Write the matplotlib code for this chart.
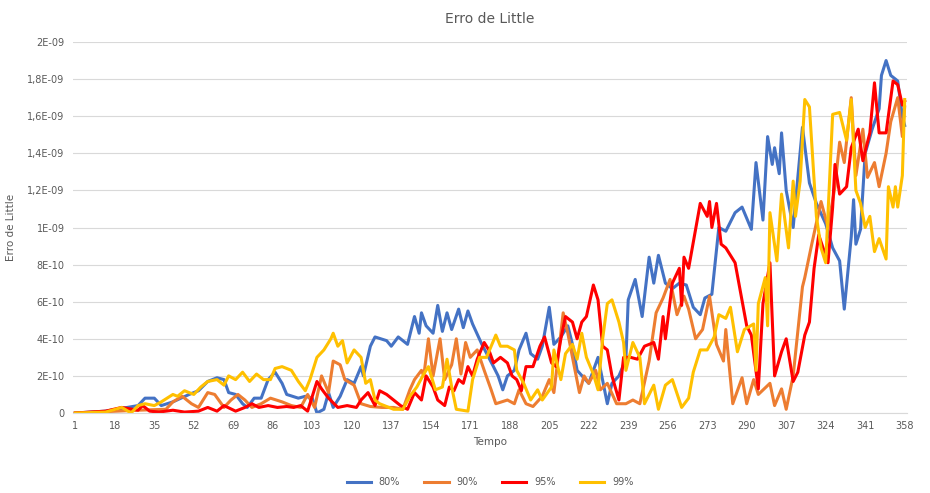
import matplotlib.pyplot as plt

# values in units of 1e-10
t80 = [1, 14, 28, 31, 35, 38, 43, 50, 54, 58, 62, 65, 67, 70, 73, 75, 78, 81, 84, 87, 90, 92, 97, 100, 103, 105, 108, 110, 112, 115, 118, 121, 124,
       125, 128, 130, 135, 137, 140, 144, 147, 149, 150, 152, 155, 157, 159, 161, 163, 166, 168, 170, 172, 176, 181, 183, 185, 187, 190, 192, 195, 197, 200, 202, 205, 207, 210, 213, 215, 217, 222, 226, 230, 232, 235, 238, 239, 242,
       245, 248, 250, 252, 255, 258, 261, 264, 267, 270, 272, 275, 278, 281, 285, 288, 292, 294, 297, 299, 301, 302, 304, 305, 307, 310, 314, 317, 320, 324, 327, 330, 332, 335, 336, 337, 339, 341, 344, 347, 348, 350, 352, 355, 357, 358]
v80 = [0, 0.1, 0.4, 0.8, 0.8, 0.4, 0.6, 1.0, 1.2, 1.7, 1.9, 1.8, 1.1, 1.0, 0.5, 0.3, 0.8, 0.8, 1.8, 2.2, 1.6, 1.0, 0.8, 0.9, 0.8, 0, 0.2, 1.1, 0.3, 0.9, 1.8, 1.6, 2.5,
       2.0, 3.6, 4.1, 3.9, 3.6, 4.1, 3.7, 5.2, 4.3, 5.4, 4.7, 4.3, 5.8, 4.4, 5.4, 4.5, 5.6, 4.6, 5.5, 4.8, 3.7, 2.5, 2.0, 1.25, 2.0, 2.3, 3.4, 4.3, 3.2, 2.9, 3.6, 5.7, 3.7, 4.1, 4.7, 3.7, 2.3, 1.6, 3.0, 0.5, 1.6, 2.0, 2.9, 6.1, 7.2,
       5.2, 8.4, 7.0, 8.5, 7.0, 6.7, 7.0, 6.9, 5.7, 5.3, 6.2, 6.4, 10.0, 9.8, 10.8, 11.1, 9.9, 13.5, 10.4, 14.9, 13.4, 14.3, 12.9, 15.1, 12.0, 10.0, 15.4, 12.4, 11.3, 10.2, 8.9, 8.2, 5.6, 9.5, 11.5, 9.1, 9.9, 14.0, 15.3, 16.4, 18.2, 19.0, 18.2, 17.9, 16.0, 15.5]

t90 = [1, 28, 40, 43, 47, 51, 54, 58, 61, 65, 68, 71, 74, 77, 81, 85, 90, 94, 98, 101, 104, 107, 110, 112, 115, 117, 121, 124,
       128, 133, 138, 142, 145, 147, 150, 151, 153, 155, 158, 160, 163, 165, 167, 169, 171, 174, 177, 180, 182, 187, 190, 192, 195, 198, 202, 205, 207, 209, 211, 213, 215, 218, 220, 222, 225, 227, 230, 234, 238, 241,
       244, 248, 251, 254, 257, 260, 263, 265, 268, 271, 274, 277, 280, 281, 284, 288, 290, 293, 295, 300, 302, 305, 307, 310, 314, 315, 318, 322, 325, 328, 330, 332, 335, 337, 340, 342, 345, 347, 350, 352, 355, 357, 358]
v90 = [0, 0.15, 0.2, 0.6, 0.9, 0.5, 0.3, 1.1, 1.0, 0.3, 0.7, 1.0, 0.7, 0.3, 0.5, 0.8, 0.6, 0.4, 0.3, 1.0, 0.3, 2.0, 1.1, 2.8, 2.6, 1.8, 1.5, 0.5,
       0.35, 0.3, 0.3, 0.2, 1.25, 1.8, 2.3, 2.0, 4.0, 2.0, 4.0, 1.8, 2.6, 4.0, 2.1, 3.8, 3.0, 3.4, 2.3, 1.25, 0.5, 0.7, 0.5, 1.25, 0.5, 0.35, 0.9, 1.8, 1.1, 3.2, 5.4, 4.3, 3.0, 1.1, 2.0, 1.6, 2.3, 1.25, 1.6, 0.5, 0.5, 0.7,
       0.5, 2.8, 5.4, 6.2, 7.2, 5.3, 6.3, 5.6, 4.0, 4.5, 6.3, 3.7, 2.8, 4.5, 0.5, 1.9, 0.5, 1.8, 1.0, 1.6, 0.4, 1.3, 0.2, 2.0, 6.8, 7.3, 9.1, 11.4, 10.0, 12.2, 14.6, 13.5, 17.0, 12.8, 15.3, 12.7, 13.5, 12.2, 14.0, 15.7, 17.0, 14.9, 16.5]

t95 = [1, 14, 21, 28, 30, 33, 37, 43, 48, 54, 58, 62, 65, 70, 74, 77, 80, 84, 88, 92, 95, 98, 101, 105, 107, 110, 114, 118, 122,
       124, 127, 130, 132, 135, 138, 141, 144, 147, 150, 152, 155, 157, 160, 162, 164, 166, 168, 170, 172, 174, 177, 179, 181, 184, 187, 189, 191, 193, 195, 198, 201, 203, 206, 208, 210, 212, 215, 217, 219, 221, 224, 226, 228, 230, 232, 235, 237, 240,
       243, 246, 250, 252, 254, 255, 258, 261, 262, 263, 265, 270, 273, 274, 275, 277, 279, 281, 285, 290, 292, 295, 297, 300, 302, 305, 307, 310, 312, 315, 317, 319, 321, 325, 327, 328, 330, 333, 335, 338, 340, 343, 345, 347, 350, 353, 355, 357, 358]
v95 = [0, 0.1, 0.3, 0.15, 0.4, 0.1, 0.05, 0.15, 0.05, 0.1, 0.3, 0.1, 0.4, 0.1, 0.3, 0.5, 0.3, 0.4, 0.3, 0.35, 0.3, 0.4, 0.1, 1.7, 1.3, 0.8, 0.3, 0.4, 0.3,
       0.7, 1.1, 0.4, 1.2, 1.0, 0.7, 0.4, 0.2, 1.1, 0.7, 2.0, 1.4, 0.7, 0.4, 1.4, 1.2, 1.8, 1.6, 2.5, 2.0, 2.9, 3.8, 3.4, 2.7, 3.0, 2.7, 2.0, 1.8, 1.2, 2.5, 2.5, 3.6, 4.1, 2.7, 2.5, 4.0, 5.2, 4.9, 4.0, 4.9, 5.2, 6.9, 6.1, 3.6, 3.4, 2.0, 0.7, 3.0, 3.0,
       2.9, 3.6, 3.8, 2.9, 5.2, 4.0, 7.0, 7.8, 5.8, 8.4, 7.8, 11.3, 10.6, 11.4, 10.0, 11.3, 9.1, 8.9, 8.1, 4.7, 4.2, 1.3, 5.9, 8.1, 2.0, 3.3, 4.0, 1.7, 2.2, 4.2, 4.9, 7.8, 9.6, 8.1, 11.1, 13.4, 11.8, 12.2, 14.3, 15.3, 13.6, 15.1, 17.8, 15.1, 15.1, 17.9, 17.7, 16.6, 16.8]

t99 = [1, 14, 21, 25, 28, 31, 35, 38, 43, 45, 48, 52, 55, 58, 62, 65, 67, 70, 73, 76, 79, 82, 85, 87, 90, 94, 97, 100, 102, 105, 108, 111, 112, 114, 116, 118, 121,
       124, 126, 128, 130, 132, 135, 138, 142, 145, 148, 151, 153, 156, 159, 161, 163, 165, 170, 172, 175, 178, 182, 184, 187, 190, 191, 194, 197, 200, 202, 206, 207, 210, 212, 215, 217, 219, 221, 224, 226, 228, 230, 232, 235, 237, 238, 241,
       244, 246, 250, 252, 255, 258, 262, 265, 267, 270, 273, 276, 278, 281, 283, 286, 289, 293, 294, 295, 298, 299, 300, 303, 305, 308, 310, 311, 313, 315, 317, 320, 322, 324, 327, 330, 333, 335, 337, 339, 341, 343, 345, 347, 350, 351, 353, 354, 355, 357, 358]
v99 = [0, 0.05, 0.3, 0, 0.4, 0.5, 0.4, 0.6, 1.0, 0.9, 1.2, 1.0, 1.4, 1.7, 1.8, 1.5, 2.0, 1.8, 2.2, 1.7, 2.1, 1.8, 1.8, 2.4, 2.5, 2.3, 1.7, 1.2, 1.8, 3.0, 3.4, 4.0, 4.3, 3.6, 3.9, 2.7, 3.4,
       3.0, 1.6, 1.8, 0.7, 0.5, 0.35, 0.2, 0.2, 0.9, 1.4, 2.1, 2.5, 1.25, 1.4, 2.9, 1.4, 0.2, 0.1, 1.8, 3.0, 3.0, 4.2, 3.6, 3.6, 3.4, 2.3, 1.6, 0.7, 1.25, 0.7, 1.4, 3.4, 1.8, 3.2, 3.7, 2.9, 4.3, 3.0, 2.1, 1.25, 4.0, 5.9, 6.1, 4.9, 3.8, 2.3, 3.8,
       3.0, 0.5, 1.5, 0.2, 1.5, 1.8, 0.3, 0.8, 2.2, 3.4, 3.4, 4.1, 5.3, 5.1, 5.7, 3.3, 4.5, 4.8, 2.3, 5.9, 7.3, 4.7, 10.8, 8.2, 11.8, 8.9, 12.5, 10.6, 12.5, 16.9, 16.5, 10.6, 8.9, 8.1, 16.1, 16.2, 14.7, 16.9, 12.0, 11.3, 10.0, 10.6, 8.7, 9.4, 8.3, 12.2, 11.1, 12.2, 11.1, 12.8, 16.9]

series = [("80%", t80, v80, "#4472C4"), ("90%", t90, v90, "#ED7D31"),
          ("95%", t95, v95, "#FF0000"), ("99%", t99, v99, "#FFC000")]

xticks = list(range(1, 359, 17))
yticks = [0, 2, 4, 6, 8, 10, 12, 14, 16, 18, 20]
ylabels = ["0", "2E-10", "4E-10", "6E-10", "8E-10", "1E-09", "1,2E-09", "1,4E-09", "1,6E-09", "1,8E-09", "2E-09"]

fig = plt.figure(figsize=(9.3, 4.93), dpi=100)
ax = fig.add_axes([73 / 930, 1 - 413 / 493, 834 / 930, 371 / 493])
for name, t, v, c in series:
    ax.plot(t, [x * 1e-10 for x in v], color=c, lw=2.2, label=name)

ax.set_xlim(0, 359)
ax.set_ylim(0, 2e-9)
ax.set_xticks(xticks)
ax.set_xticklabels([str(x) for x in xticks], fontsize=7, color="#595959")
ax.set_yticks([y * 1e-10 for y in yticks])
ax.set_yticklabels(ylabels, fontsize=7, color="#595959")
ax.tick_params(length=0, pad=6)
ax.grid(axis="y", color="#D9D9D9", lw=0.8)
ax.set_axisbelow(True)
for s in ["top", "right", "left"]:
    ax.spines[s].set_visible(False)
ax.spines["bottom"].set_color("#D9D9D9")
ax.set_title("Erro de Little", fontsize=10, color="#595959", pad=14)
ax.set_xlabel("Tempo", fontsize=7.5, color="#595959", labelpad=4)
ax.set_ylabel("Erro de Little", fontsize=7.5, color="#595959", labelpad=8)
ax.legend(loc="upper center", bbox_to_anchor=(0.5, -0.15), ncol=4, frameon=False,
          fontsize=7, handlelength=2.5, columnspacing=2.5, labelcolor="#595959")
fig.savefig("out.png")
